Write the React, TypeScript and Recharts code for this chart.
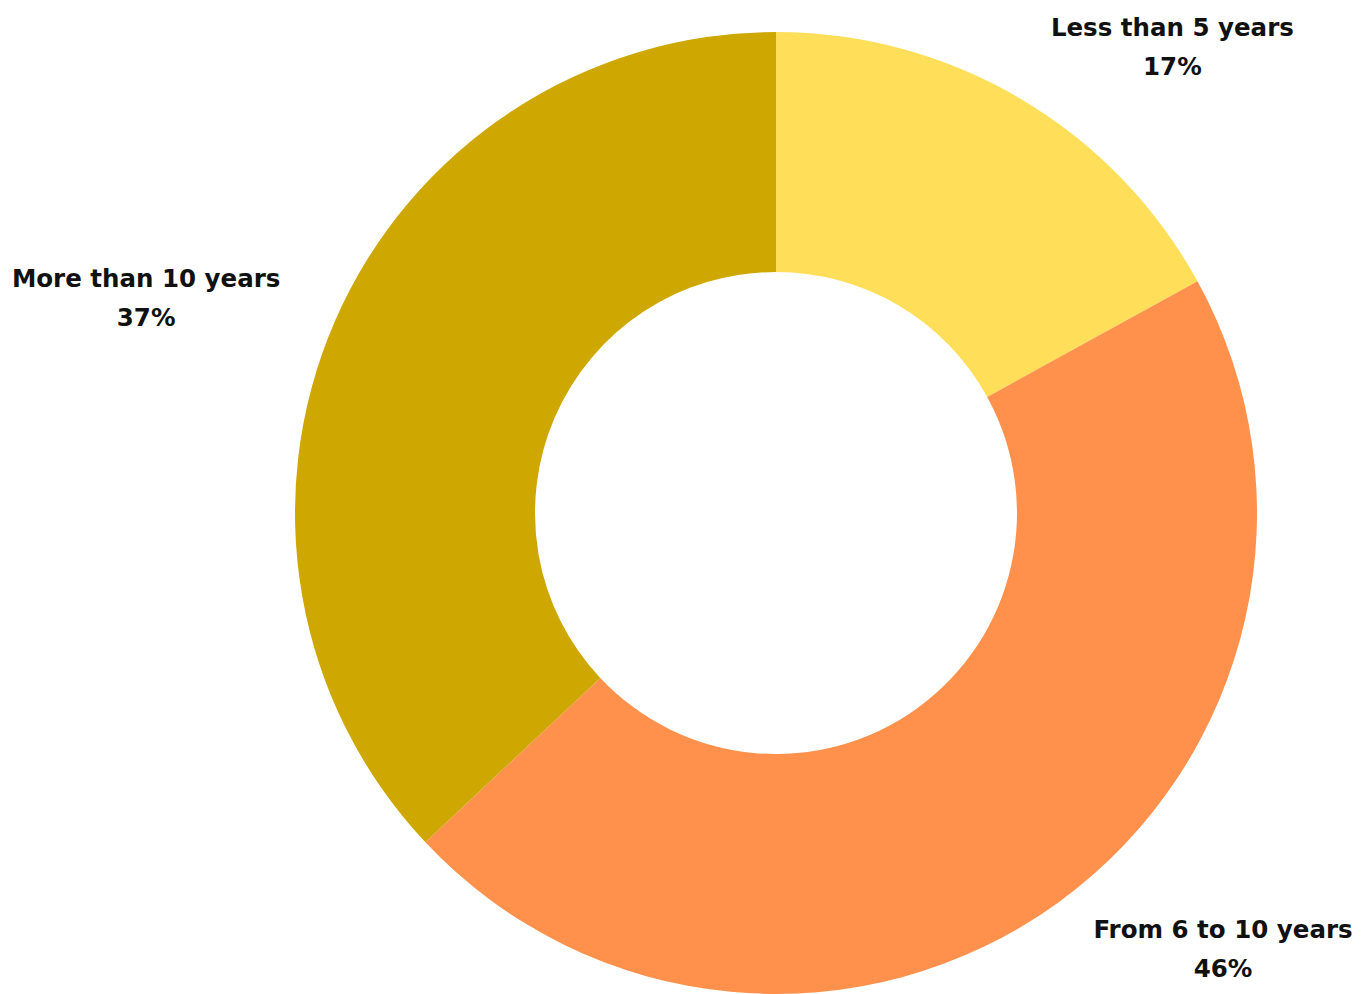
import { Cell, Pie, PieChart } from 'recharts';

const categories = ['Less than 5 years', 'From 6 to 10 years', 'More than 10 years'];
const shares = [17, 46, 37];
const colors = ['#FFDE59', '#FF914D', '#CEA800'];

const data = categories.map((name, i) => ({ name, value: shares[i] }));

const FONT = '"DejaVu Sans", sans-serif';
const FONT_SIZE = 24.5;
const RAD = Math.PI / 180;

let canvasCtx: CanvasRenderingContext2D | null = null;
const measure = (text: string) => {
    if (!canvasCtx) canvasCtx = document.createElement('canvas').getContext('2d');
    if (!canvasCtx) return text.length * FONT_SIZE * 0.65;
    canvasCtx.font = `bold ${FONT_SIZE}px ${FONT}`;
    return canvasCtx.measureText(text).width;
};

// label block sits just outside the ring, its inner edge on the slice's mid-angle
const renderLabel = (props: any) => {
    const { cx, cy, midAngle, outerRadius, name, value } = props;
    const r = outerRadius + 59;
    const px = cx + r * Math.cos(-midAngle * RAD);
    const py = cy + r * Math.sin(-midAngle * RAD);
    const w = measure(name);
    const right = px >= cx;
    const x = right ? px + w / 2 : px - w / 2;

    return (
        <text
            x={x}
            y={py}
            textAnchor="middle"
            fill="#111111"
            fontFamily={FONT}
            fontSize={FONT_SIZE}
            fontWeight="bold"
        >
            <tspan x={x} y={py - 12}>
                {name}
            </tspan>
            <tspan x={x} y={py + 27}>
                {value}%
            </tspan>
        </text>
    );
};

const App = () => {
    return (
        <div style={{ position: 'absolute', left: 0, top: 0, width: 1372, height: 994, background: '#fff' }}>
            <PieChart width={1372} height={994} margin={{ top: 0, right: 0, bottom: 0, left: 0 }}>
                <Pie
                    data={data}
                    dataKey="value"
                    nameKey="name"
                    cx={776}
                    cy={513}
                    innerRadius={241}
                    outerRadius={481}
                    startAngle={90}
                    endAngle={-270}
                    stroke="none"
                    label={renderLabel}
                    labelLine={false}
                    isAnimationActive={false}
                >
                    {data.map((d, i) => (
                        <Cell key={d.name} fill={colors[i]} />
                    ))}
                </Pie>
            </PieChart>
        </div>
    );
};

export default App;
